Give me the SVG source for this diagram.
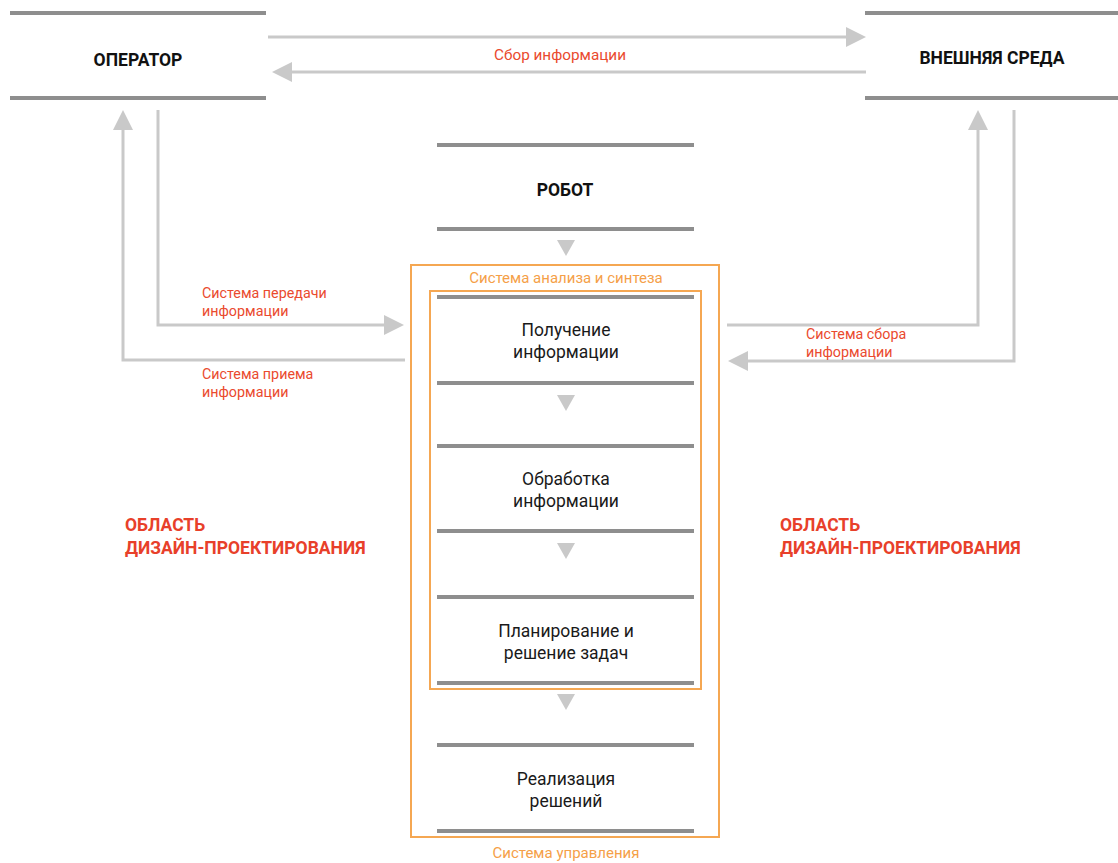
<svg xmlns="http://www.w3.org/2000/svg" width="1118" height="863" viewBox="0 0 1118 863">
<style>
.bar{stroke:#8e8e8e;stroke-width:4}
.con{stroke:#c9c9c9;stroke-width:3;fill:none}
.head{fill:#c9c9c9}
.t{font-family:Roboto,"Liberation Sans",sans-serif;font-size:17.5px;fill:#1a1a1a;text-anchor:middle}
.tb{font-family:Roboto,"Liberation Sans",sans-serif;font-size:17.5px;font-weight:bold;fill:#111;text-anchor:middle}
.red{font-family:Roboto,"Liberation Sans",sans-serif;font-size:14.3px;fill:#ea4a2e}
.area{font-family:Roboto,"Liberation Sans",sans-serif;font-size:17.5px;font-weight:bold;fill:#e8402a}
.org{font-family:Roboto,"Liberation Sans",sans-serif;font-size:15px;fill:#f5a048;text-anchor:middle}
.box{fill:none;stroke:#f5a752;stroke-width:2}
</style>
<rect width="1118" height="863" fill="#fff"/>
<g id="connectors">
<line class="con" x1="268" y1="37" x2="848" y2="37"/>
<polygon class="head" points="866,37 846,27 846,47"/>
<line class="con" x1="866" y1="72" x2="290" y2="72"/>
<polygon class="head" points="272,72 292,62 292,82"/>
<polyline class="con" points="405,360 123,360 123,130"/>
<polygon class="head" points="123,110 113,130 133,130"/>
<polyline class="con" points="158,110 158,325 386,325"/>
<polygon class="head" points="404,325 384,315 384,335"/>
<polyline class="con" points="727,325 978,325 978,130"/>
<polygon class="head" points="978,110 968,130 988,130"/>
<polyline class="con" points="1014,110 1014,361 746,361"/>
<polygon class="head" points="728,361 748,351 748,371"/>
<polygon class="head" points="557,240 575,240 566,256"/>
<polygon class="head" points="557,395 575,395 566,411"/>
<polygon class="head" points="557,543 575,543 566,559"/>
<polygon class="head" points="557,694 575,694 566,710"/>
<text class="red" x="560" y="60" text-anchor="middle" style="font-size:15.3px">Сбор информации</text>
<text class="red" x="202" y="298">Система передачи</text>
<text class="red" x="202" y="316">информации</text>
<text class="red" x="202" y="379">Система приема</text>
<text class="red" x="202" y="397">информации</text>
<text class="red" x="806" y="339">Система сбора</text>
<text class="red" x="806" y="357">информации</text>
</g>
<g id="operator">
<line class="bar" x1="10" y1="13" x2="266" y2="13"/>
<line class="bar" x1="10" y1="98" x2="266" y2="98"/>
<text class="tb" x="138" y="66">ОПЕРАТОР</text>
</g>
<g id="environment">
<line class="bar" x1="865" y1="13" x2="1118" y2="13"/>
<line class="bar" x1="865" y1="98" x2="1118" y2="98"/>
<text class="tb" x="992" y="64">ВНЕШНЯЯ СРЕДА</text>
</g>
<g id="robot">
<line class="bar" x1="437" y1="145" x2="694" y2="145"/>
<line class="bar" x1="437" y1="229" x2="694" y2="229"/>
<text class="tb" x="565" y="196">РОБОТ</text>
</g>
<g id="control-system">
<rect class="box" x="411" y="265" width="308" height="572"/>
<text class="org" x="566" y="283">Система анализа и синтеза</text>
<text class="org" x="566" y="858">Система управления</text>
</g>
<g id="analysis-system">
<rect class="box" x="430" y="291" width="271" height="398"/>
</g>
<g id="receive">
<line class="bar" x1="437" y1="297" x2="694" y2="297"/>
<line class="bar" x1="437" y1="383" x2="694" y2="383"/>
<text class="t" x="566" y="336">Получение</text>
<text class="t" x="566" y="358">информации</text>
</g>
<g id="process">
<line class="bar" x1="437" y1="446" x2="694" y2="446"/>
<line class="bar" x1="437" y1="531" x2="694" y2="531"/>
<text class="t" x="566" y="485">Обработка</text>
<text class="t" x="566" y="507">информации</text>
</g>
<g id="plan">
<line class="bar" x1="437" y1="597" x2="694" y2="597"/>
<line class="bar" x1="437" y1="683" x2="694" y2="683"/>
<text class="t" x="566" y="637">Планирование и</text>
<text class="t" x="566" y="659">решение задач</text>
</g>
<g id="implement">
<line class="bar" x1="437" y1="745" x2="694" y2="745"/>
<line class="bar" x1="437" y1="831" x2="694" y2="831"/>
<text class="t" x="566" y="785">Реализация</text>
<text class="t" x="566" y="807">решений</text>
</g>
<g id="area-left">
<text class="area" x="125" y="531">ОБЛАСТЬ</text>
<text class="area" x="125" y="554">ДИЗАЙН-ПРОЕКТИРОВАНИЯ</text>
</g>
<g id="area-right">
<text class="area" x="780" y="531">ОБЛАСТЬ</text>
<text class="area" x="780" y="554">ДИЗАЙН-ПРОЕКТИРОВАНИЯ</text>
</g>
</svg>
